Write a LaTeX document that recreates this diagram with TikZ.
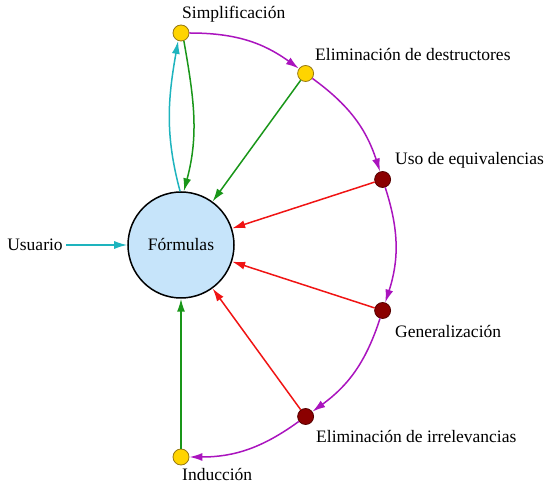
\documentclass[tikz,border=0pt]{standalone}
\usepackage{fontspec}
\setmainfont{Liberation Serif}
\usetikzlibrary{arrows.meta}

\definecolor{amarillo}{RGB}{255,212,0}
\definecolor{bordeamarillo}{RGB}{150,120,20}
\definecolor{granate}{RGB}{139,0,0}
\definecolor{bordegranate}{RGB}{85,0,0}
\definecolor{celeste}{RGB}{198,228,250}
\definecolor{verde}{RGB}{25,150,25}
\definecolor{turquesa}{RGB}{30,180,190}
\definecolor{morado}{RGB}{170,20,190}
\definecolor{rojo}{RGB}{240,20,20}

\begin{document}
\begin{tikzpicture}[x=1pt,y=1pt,font=\fontsize{17.5}{20}\selectfont]
  \tikzstyle{formulas}=[draw,circle,line width=1.5pt,fill=celeste,minimum size=106pt,inner sep=0pt];
  \tikzstyle{heuristica}=[draw=bordeamarillo,circle,fill=amarillo,line width=0.8pt,minimum size=16pt,inner sep=0pt];
  \tikzstyle{proceso}=[draw=bordegranate,circle,fill=granate,line width=0.8pt,minimum size=16pt,inner sep=0pt];
  \tikzstyle{etiq}=[anchor=west,inner sep=0pt];
  \tikzstyle{flecha}=[->,>={Latex[length=13pt,width=8pt]},line width=1.5pt];
  \tikzstyle{paso}=[flecha,morado,bend left=18];

  \useasboundingbox (-181,-241) rectangle (365,245);

  \node[formulas] (F) at (0,0) {Fórmulas};
  \node (usuario) at (-146,0) {Usuario};

  \node[heuristica] (S) at (90:212) {};
  \node[heuristica] (D) at (54:212) {};
  \node[proceso] (U) at (18:212) {};
  \node[proceso] (G) at (-18:212) {};
  \node[proceso] (I) at (-54:212) {};
  \node[heuristica] (N) at (-90:212) {};

  \node[etiq] (lS) at (1,231) {Simplificación};
  \node[etiq] (lD) at (134,190) {Eliminación de destructores};
  \node[etiq] (lU) at (214,85) {Uso de equivalencias};
  \node[etiq] (lG) at (214,-87) {Generalización};
  \node[etiq] (lI) at (135,-192) {Eliminación de irrelevancias};
  \node[etiq] (lN) at (1,-230) {Inducción};

  % Usuario => Formulas
  \draw[flecha,turquesa] (usuario.east) -- (F.west);

  % Formulas <=> Simplificacion
  \draw[flecha,turquesa] (F.91) to[out=105,in=-100] (S.-110);
  \draw[flecha,verde] (S.-70) to[out=-80,in=75] (F.87);

  % cadena de procesos
  \draw[paso] (S) to (D);
  \draw[paso] (D) to (U);
  \draw[paso] (U) to (G);
  \draw[paso] (G) to (I);
  \draw[paso] (I) to (N);

  % vuelta a Formulas
  \draw[flecha,verde] (D) -- (F);
  \draw[flecha,rojo] (U) -- (F);
  \draw[flecha,rojo] (G) -- (F);
  \draw[flecha,rojo] (I) -- (F);
  \draw[flecha,verde] (N) -- (F);

\end{tikzpicture}
\end{document}
